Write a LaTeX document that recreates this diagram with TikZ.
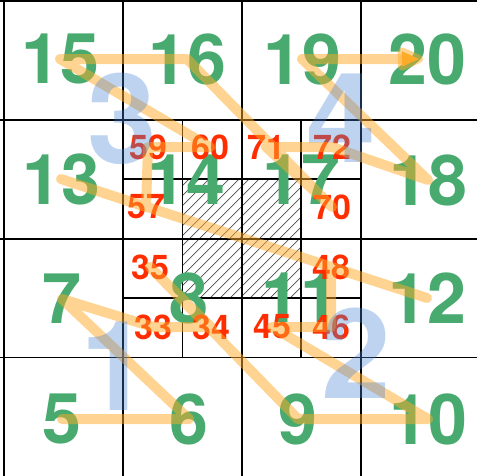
\documentclass[tikz,border=0pt]{standalone}
\usepackage{fontspec}
\setmainfont{TeX Gyre Heros}
\usetikzlibrary{arrows.meta}
\definecolor{cgreen}{RGB}{72,170,110}
\definecolor{cred}{RGB}{255,45,0}
\definecolor{corange}{RGB}{255,170,40}
\definecolor{cblue}{RGB}{70,130,210}
\tikzset{
  gridline/.style={line width=1.8pt, black},
  hatchline/.style={line width=0.7pt, black!70},
  gnum/.style={inner sep=0pt, text=cgreen, font=\fontsize{70}{70}\selectfont\bfseries},
  rnum/.style={inner sep=0pt, text=cred, font=\fontsize{34}{34}\selectfont\bfseries},
  bnum/.style={inner sep=0pt, text=cblue, text opacity=0.35, font=\fontsize{125}{125}\selectfont\bfseries},
  opath/.style={line width=10pt, draw=corange, draw opacity=0.5, line cap=round, line join=round},
}
\begin{document}
\begin{tikzpicture}[x=1pt,y=-1pt]
\useasboundingbox (0,0) rectangle (477,475);
\clip (0,0) rectangle (477,475);
% hatch
\begin{scope}
  \clip (182.4,179.2) rectangle (301.3,298.1);
  \foreach \x in {60,70,...,310} {
    \draw[hatchline] (\x,298.1) -- ++(125,-125);
  }
\end{scope}
% outer grid
\foreach \x in {4,122.9,241.8,360.7} {
  \draw[gridline] (\x,-2) -- (\x,478);
}
\foreach \y in {0.8,119.7,238.6,357.5} {
  \draw[gridline] (-2,\y) -- (479,\y);
}
% inner grid
\foreach \x in {182.4,301.3} {
  \draw[gridline] (\x,119.7) -- (\x,357.5);
}
\foreach \y in {179.2,298.1} {
  \draw[gridline] (122.9,\y) -- (360.7,\y);
}
% green numbers
\node[gnum] (g15) at (60,59) {15};
\node[gnum] (g16) at (187,59) {16};
\node[gnum] (g19) at (302,59) {19};
\node[gnum] (g20) at (427,59) {20};
\node[gnum] (g13) at (61,179) {13};
\node[gnum] (g14) at (186,180) {14};
\node[gnum] (g17) at (301,180) {17};
\node[gnum] (g18) at (428,180) {18};
\node[gnum] (g7) at (62,299) {7};
\node[gnum] (g8) at (189,298) {8};
\node[gnum] (g11) at (300,298) {11};
\node[gnum] (g12) at (427,298) {12};
\node[gnum] (g5) at (62,419) {5};
\node[gnum] (g6) at (189,419) {6};
\node[gnum] (g9) at (298,419) {9};
\node[gnum] (g10) at (428,419) {10};
% red numbers
\node[rnum] (r59) at (148,147) {59};
\node[rnum] (r60) at (210,147) {60};
\node[rnum] (r57) at (146,207) {57};
\node[rnum] (r71) at (266,147) {71};
\node[rnum] (r72) at (332,147) {72};
\node[rnum] (r70) at (332,207) {70};
\node[rnum] (r35) at (150,267) {35};
\node[rnum] (r33) at (153,327) {33};
\node[rnum] (r34) at (211,327) {34};
\node[rnum] (r48) at (331,267) {48};
\node[rnum] (r45) at (272,327) {45};
\node[rnum] (r46) at (331,327) {46};
% orange path
\draw[opath, -{Triangle[length=32pt,width=25pt,round=false]}]
  (g5.center) -- (g6.center) -- (g7.center) -- (r33.center) -- (r34.center)
  -- (r35.center) -- (g9.center) -- (g10.center) -- (r45.center) -- (r46.center)
  -- (r48.center) -- (g12.center) -- (g13.center) -- (r57.center) -- (r59.center)
  -- (r60.center) -- (g15.center) -- (g16.center) -- (r70.center) -- (r71.center)
  -- (r72.center) -- (g18.center) -- (g19.center) -- ([xshift=-4pt]g20.center);
% blue numbers
\node[bnum] (b1) at (115,366) {1};
\node[bnum] (b2) at (356,353) {2};
\node[bnum] (b3) at (122,119) {3};
\node[bnum] (b4) at (341,118) {4};
\end{tikzpicture}
\end{document}
